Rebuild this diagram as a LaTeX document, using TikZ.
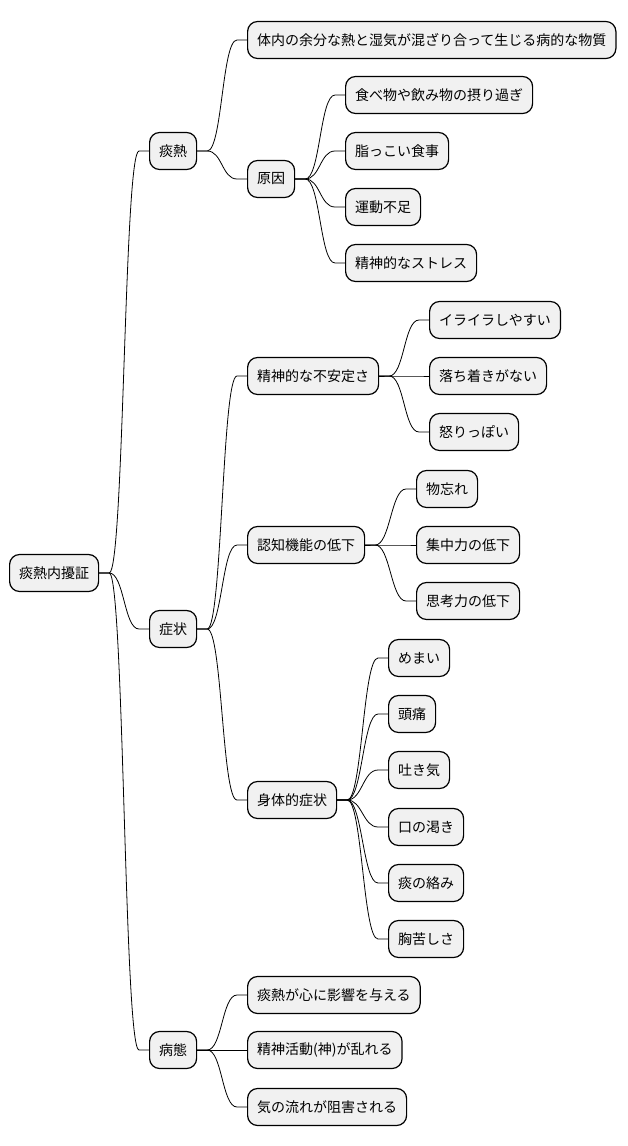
\documentclass[tikz,border=0pt]{standalone}
\usepackage{fontspec}
\setmainfont{Noto Sans CJK JP}
\usetikzlibrary{calc}
\definecolor{boxgray}{HTML}{F1F1F1}
\tikzset{
  topic/.style={draw=black, line width=1.2pt, fill=boxgray, rounded corners=10pt,
    anchor=west, minimum height=37pt, inner xsep=9.5pt, inner ysep=0pt,
    font=\fontsize{14}{16}\selectfont},
}
\newcommand\branch[2]{\draw[line width=0.8pt] (#1.east) -- ++(10,0) .. controls +(15,0) and +(-15,0) .. ($(#2.west)+(-10,0)$) -- (#2.west);}

\begin{document}
\begin{tikzpicture}[x=1pt, y=-1pt]
			%%%%% START %%%%%
			\useasboundingbox (0,0) rectangle (628,1146);
			
			\node[topic] (root) at (9, 573) {痰熱内擾証};
			
			\node[topic] (tannetsu) at (149, 151) {痰熱};
			\node[topic] (shojo) at (149, 629) {症状};
			\node[topic] (byotai) at (149, 1050) {病態};
			
			\node[topic] (teigi) at (247, 40) {体内の余分な熱と湿気が混ざり合って生じる病的な物質};
			\node[topic] (genin) at (247, 179) {原因};
			\node[topic] (inshoku) at (345, 95) {食べ物や飲み物の摂り過ぎ};
			\node[topic] (abura) at (345, 151) {脂っこい食事};
			\node[topic] (undo) at (345, 207) {運動不足};
			\node[topic] (stress) at (345, 263) {精神的なストレス};
			
			\node[topic] (fuan) at (247, 376) {精神的な不安定さ};
			\node[topic] (iraira) at (429, 320) {イライラしやすい};
			\node[topic] (ochitsuki) at (429, 376) {落ち着きがない};
			\node[topic] (okori) at (429, 432) {怒りっぽい};
			
			\node[topic] (ninchi) at (247, 545) {認知機能の低下};
			\node[topic] (monowasure) at (416, 489) {物忘れ};
			\node[topic] (shuchu) at (416, 545) {集中力の低下};
			\node[topic] (shiko) at (416, 601) {思考力の低下};
			
			\node[topic] (shintai) at (247, 800) {身体的症状};
			\node[topic] (memai) at (388, 658) {めまい};
			\node[topic] (zutsu) at (388, 714) {頭痛};
			\node[topic] (hakike) at (388, 770) {吐き気};
			\node[topic] (kawaki) at (388, 827) {口の渇き};
			\node[topic] (karami) at (388, 883) {痰の絡み};
			\node[topic] (munagurushi) at (388, 939) {胸苦しさ};
			
			\node[topic] (eikyo) at (247, 995) {痰熱が心に影響を与える};
			\node[topic] (midare) at (247, 1050) {精神活動(神)が乱れる};
			\node[topic] (sogai) at (247, 1107) {気の流れが阻害される};
			
			\foreach \p/\c in {root/tannetsu, root/shojo, root/byotai,
			    tannetsu/teigi, tannetsu/genin,
			    genin/inshoku, genin/abura, genin/undo, genin/stress,
			    shojo/fuan, shojo/ninchi, shojo/shintai,
			    fuan/iraira, fuan/ochitsuki, fuan/okori,
			    ninchi/monowasure, ninchi/shuchu, ninchi/shiko,
			    shintai/memai, shintai/zutsu, shintai/hakike, shintai/kawaki, shintai/karami, shintai/munagurushi,
			    byotai/eikyo, byotai/midare, byotai/sogai}
			  \branch{\p}{\c};
			
			%%%%% END %%%%%
\end{tikzpicture}
\end{document}
